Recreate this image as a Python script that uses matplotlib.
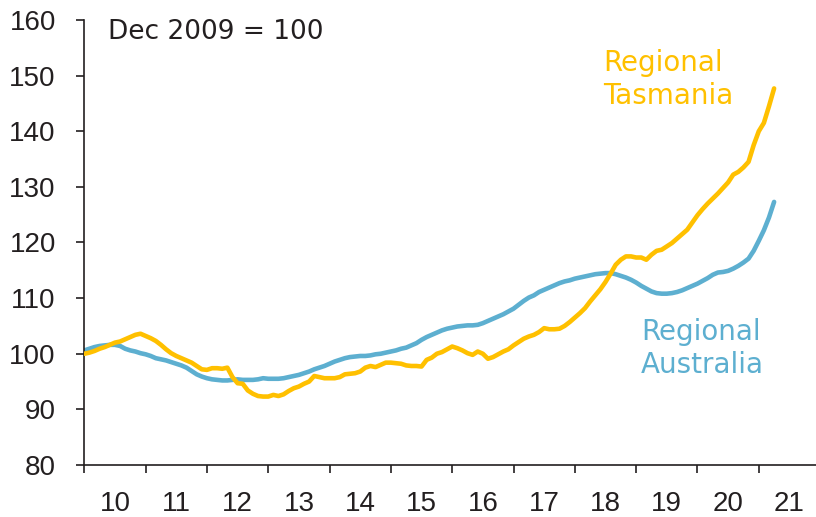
import matplotlib.pyplot as plt
import numpy as np

# monthly index, Dec 2009 = 100 (Dec 2009 .. Mar 2021)
tasmania = [
    100.0, 100.2, 100.5, 100.9, 101.2, 101.6, 102.0, 102.2, 102.6, 103.0,
    103.4, 103.6, 103.2, 102.8, 102.3, 101.6, 100.8, 100.1, 99.6, 99.2,
    98.8, 98.4, 97.8, 97.2, 97.1, 97.4, 97.4, 97.3, 97.5, 95.8,
    94.7, 94.6, 93.4, 92.8, 92.4, 92.3, 92.3, 92.6, 92.4, 92.7,
    93.3, 93.8, 94.1, 94.6, 95.0, 96.0, 95.8, 95.6, 95.6, 95.6,
    95.8, 96.3, 96.4, 96.5, 96.8, 97.5, 97.8, 97.6, 98.0, 98.4,
    98.4, 98.3, 98.2, 97.9, 97.8, 97.8, 97.7, 98.9, 99.3, 100.0,
    100.3, 100.8, 101.3, 101.0, 100.6, 100.1, 99.8, 100.4, 100.0, 99.1,
    99.4, 99.9, 100.4, 100.8, 101.5, 102.1, 102.7, 103.1, 103.4, 103.9,
    104.6, 104.4, 104.4, 104.5, 105.0, 105.7, 106.5, 107.3, 108.2, 109.4,
    110.5, 111.6, 112.9, 114.4, 116.0, 116.9, 117.5, 117.5, 117.3, 117.3,
    116.9, 117.8, 118.5, 118.7, 119.3, 119.9, 120.7, 121.5, 122.3, 123.6,
    124.9, 126.0, 127.0, 127.9, 128.8, 129.8, 130.8, 132.2, 132.7, 133.5,
    134.5, 137.5, 140.0, 141.5, 144.5, 147.7,
]
australia = [
    100.6, 100.9, 101.2, 101.4, 101.5, 101.6, 101.6, 101.4, 100.9, 100.6,
    100.4, 100.1, 99.9, 99.6, 99.2, 99.0, 98.8, 98.5, 98.2, 97.9,
    97.5, 96.9, 96.3, 95.9, 95.6, 95.4, 95.3, 95.2, 95.2, 95.3,
    95.4, 95.3, 95.3, 95.3, 95.4, 95.6, 95.5, 95.5, 95.5, 95.6,
    95.8, 96.0, 96.2, 96.5, 96.8, 97.2, 97.5, 97.8, 98.2, 98.6,
    98.9, 99.2, 99.4, 99.5, 99.6, 99.6, 99.7, 99.9, 100.0, 100.2,
    100.4, 100.6, 100.9, 101.1, 101.5, 101.9, 102.5, 103.0, 103.4, 103.8,
    104.2, 104.5, 104.7, 104.9, 105.0, 105.1, 105.1, 105.2, 105.5, 105.9,
    106.3, 106.7, 107.1, 107.6, 108.1, 108.8, 109.5, 110.1, 110.5, 111.1,
    111.5, 111.9, 112.3, 112.7, 113.0, 113.2, 113.5, 113.7, 113.9, 114.1,
    114.3, 114.4, 114.5, 114.5, 114.3, 114.0, 113.7, 113.3, 112.8, 112.2,
    111.7, 111.2, 110.9, 110.8, 110.8, 110.9, 111.1, 111.4, 111.8, 112.2,
    112.6, 113.1, 113.6, 114.2, 114.6, 114.7, 114.9, 115.3, 115.8, 116.4,
    117.1, 118.5, 120.3, 122.2, 124.5, 127.3,
]
year_labels = ['10', '11', '12', '13', '14', '15', '16', '17', '18', '19', '20', '21']

months = np.arange(len(tasmania))
yellow = '#FFC000'
blue = '#5DAFD0'
ink = '#231F20'

plt.rcParams['font.family'] = ['Liberation Sans', 'DejaVu Sans']

fig = plt.figure(figsize=(8.16, 5.17), dpi=100)
ax = fig.add_axes([0.1033, 0.1006, 0.8967, 0.8607])

ax.plot(months, australia, color=blue, lw=3.3, solid_capstyle='round', zorder=2)
ax.plot(months, tasmania, color=yellow, lw=3.3, solid_capstyle='round', zorder=3)

ax.set_xlim(0, 143.2)
ax.set_ylim(80, 160)
ax.set_yticks(range(80, 161, 10))

ax.set_xticks(np.arange(0, 133, 12))
ax.set_xticklabels([])
ax.set_xticks(np.arange(6, 6 + 12 * len(year_labels), 12), minor=True)
ax.set_xticklabels(year_labels, minor=True)

ax.tick_params(axis='x', which='major', length=6, width=1.2, direction='out', color=ink)
ax.tick_params(axis='x', which='minor', length=0, pad=19, labelsize=20, labelcolor=ink)
ax.tick_params(axis='y', length=5.5, width=1.2, direction='out', pad=15,
               labelsize=20, labelcolor=ink, color=ink)

for side in ['top', 'right']:
    ax.spines[side].set_visible(False)
for side in ['left', 'bottom']:
    ax.spines[side].set_linewidth(1.2)
    ax.spines[side].set_color(ink)

label_font = ['DejaVu Sans']
ax.text(4.6, 160.2, 'Dec 2009 = 100', fontsize=19, color=ink, va='top', ha='left',
        family=label_font)
ax.text(101.5, 154.8, 'Regional\nTasmania', fontsize=20, color=yellow,
        va='top', ha='left', linespacing=1.25, family=label_font)
ax.text(109.0, 106.5, 'Regional\nAustralia', fontsize=20, color=blue,
        va='top', ha='left', linespacing=1.25, family=label_font)

fig.savefig('out.png', dpi=100)
